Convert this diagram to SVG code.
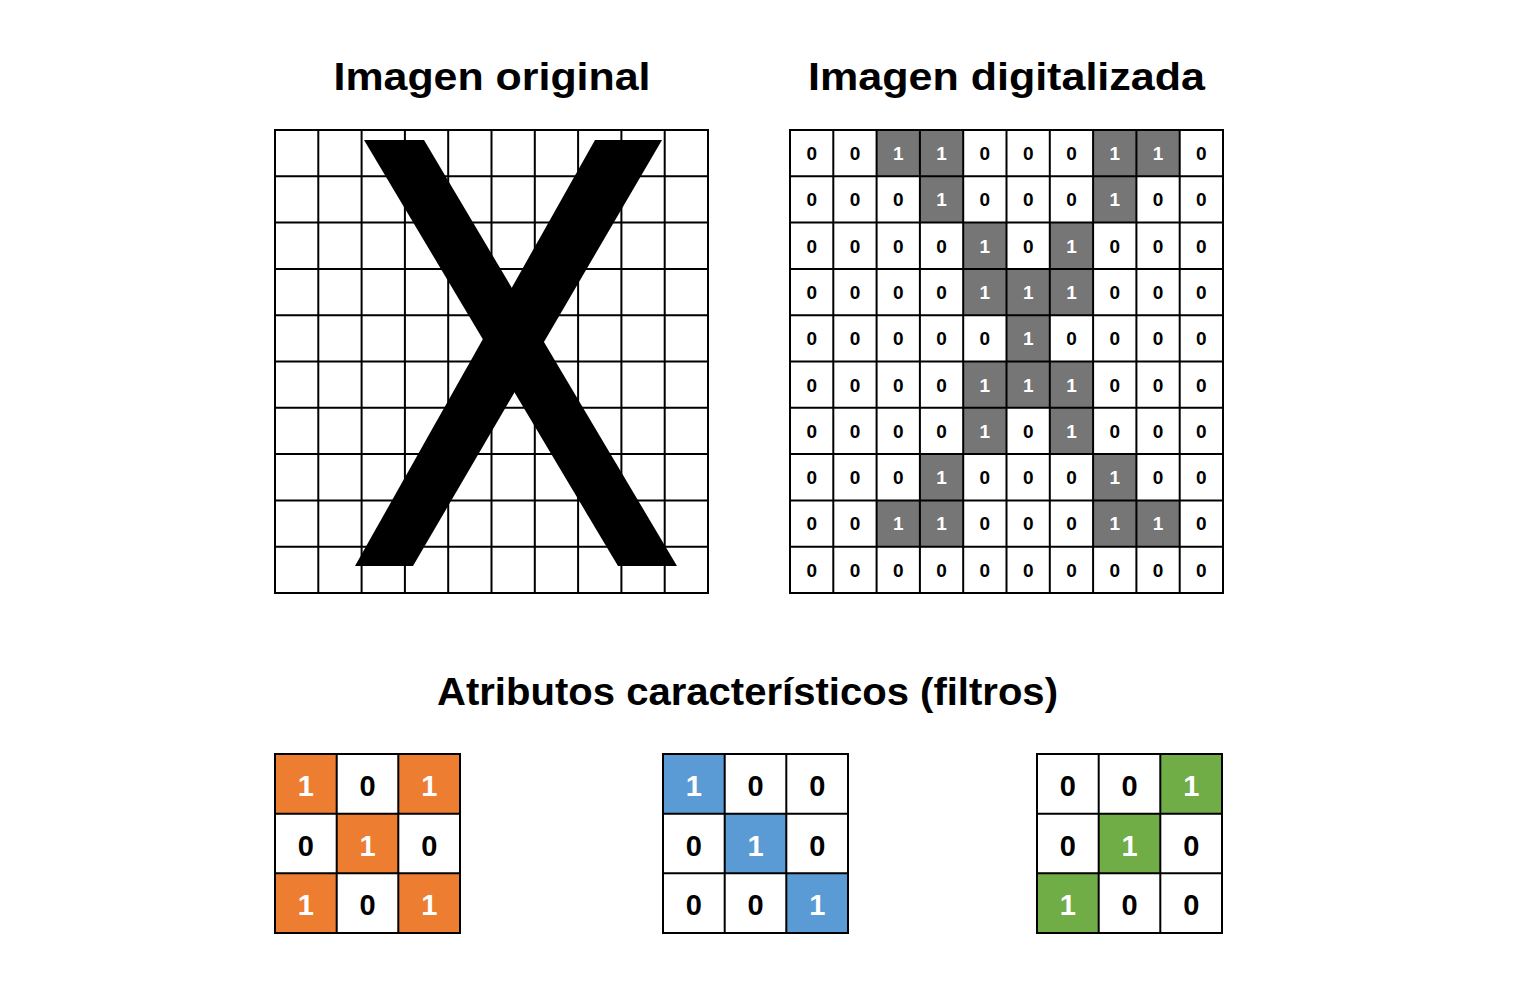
<svg xmlns="http://www.w3.org/2000/svg" width="1521" height="997" viewBox="0 0 1521 997">
<style>
.title{font-family:"Liberation Sans",Arial,sans-serif;font-weight:bold;font-size:38px;fill:#000;text-anchor:middle}
.grid{fill:none;stroke:#000;stroke-width:2}
.z{font-family:"Liberation Sans",Arial,sans-serif;font-weight:bold;font-size:19px;fill:#000;text-anchor:middle}
.o{font-family:"Liberation Sans",Arial,sans-serif;font-weight:bold;font-size:19px;fill:#fff;text-anchor:middle}
.g{fill:#767676}
.fz{font-family:"Liberation Sans",Arial,sans-serif;font-weight:bold;font-size:29px;fill:#000;text-anchor:middle}
.fo{font-family:"Liberation Sans",Arial,sans-serif;font-weight:bold;font-size:29px;fill:#fff;text-anchor:middle}
.or{fill:#ED7D31}.bl{fill:#5B9BD5}.gr{fill:#70AD47}
</style>
<rect width="1521" height="997" fill="#fff"/>
<g id="titles">
<text class="title" x="492" y="90" textLength="317" lengthAdjust="spacingAndGlyphs">Imagen original</text>
<text class="title" x="1006.5" y="90" textLength="397" lengthAdjust="spacingAndGlyphs">Imagen digitalizada</text>
<text class="title" x="747.5" y="705" font-size="40" textLength="621" lengthAdjust="spacingAndGlyphs">Atributos característicos (filtros)</text>
</g>
<g id="original">
<rect x="275" y="130" width="433" height="463" fill="#fff"/>
<path class="grid" d="M275 130H708V593H275Z M318.3 130V593 M361.6 130V593 M404.9 130V593 M448.2 130V593 M491.5 130V593 M534.8 130V593 M578.1 130V593 M621.4 130V593 M664.7 130V593 M275 176.3H708 M275 222.6H708 M275 268.9H708 M275 315.2H708 M275 361.5H708 M275 407.8H708 M275 454.1H708 M275 500.4H708 M275 546.7H708"/>
<polygon points="364,140 424,140 677,566 618,566" fill="#000"/>
<polygon points="595,140 662,140 413,566 355,566" fill="#000"/>
</g>
<g id="digitalizada">
<rect x="790" y="130" width="433" height="463" fill="#fff"/>
<g class="g">
<rect x="876.6" y="130" width="43.3" height="46.3"/><rect x="919.9" y="130" width="43.3" height="46.3"/><rect x="1093.1" y="130" width="43.3" height="46.3"/><rect x="1136.4" y="130" width="43.3" height="46.3"/>
<rect x="919.9" y="176.3" width="43.3" height="46.3"/><rect x="1093.1" y="176.3" width="43.3" height="46.3"/>
<rect x="963.2" y="222.6" width="43.3" height="46.3"/><rect x="1049.8" y="222.6" width="43.3" height="46.3"/>
<rect x="963.2" y="268.9" width="129.9" height="46.3"/>
<rect x="1006.5" y="315.2" width="43.3" height="46.3"/>
<rect x="963.2" y="361.5" width="129.9" height="46.3"/>
<rect x="963.2" y="407.8" width="43.3" height="46.3"/><rect x="1049.8" y="407.8" width="43.3" height="46.3"/>
<rect x="919.9" y="454.1" width="43.3" height="46.3"/><rect x="1093.1" y="454.1" width="43.3" height="46.3"/>
<rect x="876.6" y="500.4" width="43.3" height="46.3"/><rect x="919.9" y="500.4" width="43.3" height="46.3"/><rect x="1093.1" y="500.4" width="43.3" height="46.3"/><rect x="1136.4" y="500.4" width="43.3" height="46.3"/>
</g>
<path class="grid" d="M790 130H1223V593H790Z M833.3 130V593 M876.6 130V593 M919.9 130V593 M963.2 130V593 M1006.5 130V593 M1049.8 130V593 M1093.1 130V593 M1136.4 130V593 M1179.7 130V593 M790 176.3H1223 M790 222.6H1223 M790 268.9H1223 M790 315.2H1223 M790 361.5H1223 M790 407.8H1223 M790 454.1H1223 M790 500.4H1223 M790 546.7H1223"/>
<g>
<text class="z" x="811.7" y="160">0</text><text class="z" x="855" y="160">0</text><text class="o" x="898.3" y="160">1</text><text class="o" x="941.6" y="160">1</text><text class="z" x="984.9" y="160">0</text><text class="z" x="1028.2" y="160">0</text><text class="z" x="1071.5" y="160">0</text><text class="o" x="1114.8" y="160">1</text><text class="o" x="1158.1" y="160">1</text><text class="z" x="1201.4" y="160">0</text>
<text class="z" x="811.7" y="206.3">0</text><text class="z" x="855" y="206.3">0</text><text class="z" x="898.3" y="206.3">0</text><text class="o" x="941.6" y="206.3">1</text><text class="z" x="984.9" y="206.3">0</text><text class="z" x="1028.2" y="206.3">0</text><text class="z" x="1071.5" y="206.3">0</text><text class="o" x="1114.8" y="206.3">1</text><text class="z" x="1158.1" y="206.3">0</text><text class="z" x="1201.4" y="206.3">0</text>
<text class="z" x="811.7" y="252.6">0</text><text class="z" x="855" y="252.6">0</text><text class="z" x="898.3" y="252.6">0</text><text class="z" x="941.6" y="252.6">0</text><text class="o" x="984.9" y="252.6">1</text><text class="z" x="1028.2" y="252.6">0</text><text class="o" x="1071.5" y="252.6">1</text><text class="z" x="1114.8" y="252.6">0</text><text class="z" x="1158.1" y="252.6">0</text><text class="z" x="1201.4" y="252.6">0</text>
<text class="z" x="811.7" y="298.9">0</text><text class="z" x="855" y="298.9">0</text><text class="z" x="898.3" y="298.9">0</text><text class="z" x="941.6" y="298.9">0</text><text class="o" x="984.9" y="298.9">1</text><text class="o" x="1028.2" y="298.9">1</text><text class="o" x="1071.5" y="298.9">1</text><text class="z" x="1114.8" y="298.9">0</text><text class="z" x="1158.1" y="298.9">0</text><text class="z" x="1201.4" y="298.9">0</text>
<text class="z" x="811.7" y="345.2">0</text><text class="z" x="855" y="345.2">0</text><text class="z" x="898.3" y="345.2">0</text><text class="z" x="941.6" y="345.2">0</text><text class="z" x="984.9" y="345.2">0</text><text class="o" x="1028.2" y="345.2">1</text><text class="z" x="1071.5" y="345.2">0</text><text class="z" x="1114.8" y="345.2">0</text><text class="z" x="1158.1" y="345.2">0</text><text class="z" x="1201.4" y="345.2">0</text>
<text class="z" x="811.7" y="391.5">0</text><text class="z" x="855" y="391.5">0</text><text class="z" x="898.3" y="391.5">0</text><text class="z" x="941.6" y="391.5">0</text><text class="o" x="984.9" y="391.5">1</text><text class="o" x="1028.2" y="391.5">1</text><text class="o" x="1071.5" y="391.5">1</text><text class="z" x="1114.8" y="391.5">0</text><text class="z" x="1158.1" y="391.5">0</text><text class="z" x="1201.4" y="391.5">0</text>
<text class="z" x="811.7" y="437.8">0</text><text class="z" x="855" y="437.8">0</text><text class="z" x="898.3" y="437.8">0</text><text class="z" x="941.6" y="437.8">0</text><text class="o" x="984.9" y="437.8">1</text><text class="z" x="1028.2" y="437.8">0</text><text class="o" x="1071.5" y="437.8">1</text><text class="z" x="1114.8" y="437.8">0</text><text class="z" x="1158.1" y="437.8">0</text><text class="z" x="1201.4" y="437.8">0</text>
<text class="z" x="811.7" y="484.1">0</text><text class="z" x="855" y="484.1">0</text><text class="z" x="898.3" y="484.1">0</text><text class="o" x="941.6" y="484.1">1</text><text class="z" x="984.9" y="484.1">0</text><text class="z" x="1028.2" y="484.1">0</text><text class="z" x="1071.5" y="484.1">0</text><text class="o" x="1114.8" y="484.1">1</text><text class="z" x="1158.1" y="484.1">0</text><text class="z" x="1201.4" y="484.1">0</text>
<text class="z" x="811.7" y="530.4">0</text><text class="z" x="855" y="530.4">0</text><text class="o" x="898.3" y="530.4">1</text><text class="o" x="941.6" y="530.4">1</text><text class="z" x="984.9" y="530.4">0</text><text class="z" x="1028.2" y="530.4">0</text><text class="z" x="1071.5" y="530.4">0</text><text class="o" x="1114.8" y="530.4">1</text><text class="o" x="1158.1" y="530.4">1</text><text class="z" x="1201.4" y="530.4">0</text>
<text class="z" x="811.7" y="576.7">0</text><text class="z" x="855" y="576.7">0</text><text class="z" x="898.3" y="576.7">0</text><text class="z" x="941.6" y="576.7">0</text><text class="z" x="984.9" y="576.7">0</text><text class="z" x="1028.2" y="576.7">0</text><text class="z" x="1071.5" y="576.7">0</text><text class="z" x="1114.8" y="576.7">0</text><text class="z" x="1158.1" y="576.7">0</text><text class="z" x="1201.4" y="576.7">0</text>
</g>
</g>
<g id="filtro-naranja">
<rect x="275" y="754" width="185" height="179" fill="#fff"/>
<rect class="or" x="275" y="754" width="61.7" height="59.7"/><rect class="or" x="398.3" y="754" width="61.7" height="59.7"/>
<rect class="or" x="336.7" y="813.7" width="61.6" height="59.6"/>
<rect class="or" x="275" y="873.3" width="61.7" height="59.7"/><rect class="or" x="398.3" y="873.3" width="61.7" height="59.7"/>
<path class="grid" d="M275 754H460V933H275Z M336.7 754V933 M398.3 754V933 M275 813.7H460 M275 873.3H460"/>
<text class="fo" x="305.8" y="796">1</text><text class="fz" x="367.5" y="796">0</text><text class="fo" x="429.2" y="796">1</text>
<text class="fz" x="305.8" y="856">0</text><text class="fo" x="367.5" y="856">1</text><text class="fz" x="429.2" y="856">0</text>
<text class="fo" x="305.8" y="915">1</text><text class="fz" x="367.5" y="915">0</text><text class="fo" x="429.2" y="915">1</text>
</g>
<g id="filtro-azul">
<rect x="663" y="754" width="185" height="179" fill="#fff"/>
<rect class="bl" x="663" y="754" width="61.7" height="59.7"/>
<rect class="bl" x="724.7" y="813.7" width="61.6" height="59.6"/>
<rect class="bl" x="786.3" y="873.3" width="61.7" height="59.7"/>
<path class="grid" d="M663 754H848V933H663Z M724.7 754V933 M786.3 754V933 M663 813.7H848 M663 873.3H848"/>
<text class="fo" x="693.8" y="796">1</text><text class="fz" x="755.5" y="796">0</text><text class="fz" x="817.2" y="796">0</text>
<text class="fz" x="693.8" y="856">0</text><text class="fo" x="755.5" y="856">1</text><text class="fz" x="817.2" y="856">0</text>
<text class="fz" x="693.8" y="915">0</text><text class="fz" x="755.5" y="915">0</text><text class="fo" x="817.2" y="915">1</text>
</g>
<g id="filtro-verde">
<rect x="1037" y="754" width="185" height="179" fill="#fff"/>
<rect class="gr" x="1160.3" y="754" width="61.7" height="59.7"/>
<rect class="gr" x="1098.7" y="813.7" width="61.6" height="59.6"/>
<rect class="gr" x="1037" y="873.3" width="61.7" height="59.7"/>
<path class="grid" d="M1037 754H1222V933H1037Z M1098.7 754V933 M1160.3 754V933 M1037 813.7H1222 M1037 873.3H1222"/>
<text class="fz" x="1067.8" y="796">0</text><text class="fz" x="1129.5" y="796">0</text><text class="fo" x="1191.2" y="796">1</text>
<text class="fz" x="1067.8" y="856">0</text><text class="fo" x="1129.5" y="856">1</text><text class="fz" x="1191.2" y="856">0</text>
<text class="fo" x="1067.8" y="915">1</text><text class="fz" x="1129.5" y="915">0</text><text class="fz" x="1191.2" y="915">0</text>
</g>
<g id="connectors"/>
</svg>
